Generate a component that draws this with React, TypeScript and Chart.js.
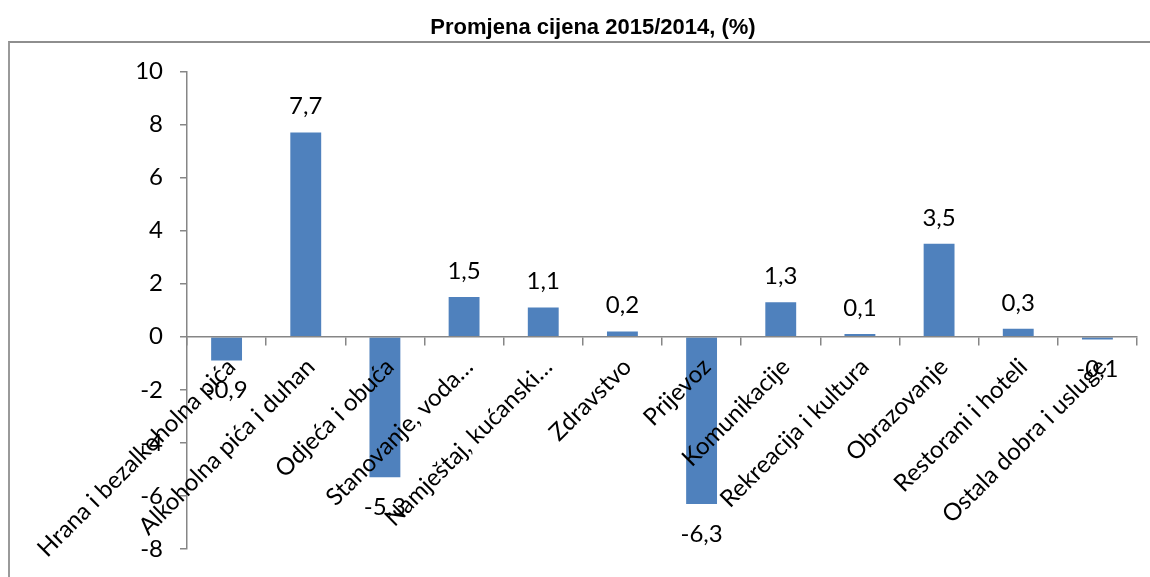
import React, { useEffect, useRef } from "react";
import { Chart, registerables } from "chart.js";

Chart.register(...registerables);

// ---- data ----
const categories: string[] = [
  "Hrana i bezalkoholna pića",
  "Alkoholna pića i duhan",
  "Odjeća i obuća",
  "Stanovanje, voda…",
  "Namještaj, kućanski…",
  "Zdravstvo",
  "Prijevoz",
  "Komunikacije",
  "Rekreacija i kultura",
  "Obrazovanje",
  "Restorani i hoteli",
  "Ostala dobra i usluge",
];
const values: number[] = [-0.9, 7.7, -5.3, 1.5, 1.1, 0.2, -6.3, 1.3, 0.1, 3.5, 0.3, -0.1];
const yMin = -8;
const yMax = 10;
const yStep = 2;
const chartTitle = "Promjena cijena 2015/2014, (%)";

const FONT = "Lato";
const FONT_SIZE = 24;
const AXIS = "#868686";
const BAR = "#4F81BD";

const fmt = (v: number) => String(v).replace(".", ",");

const dataLabels = {
  id: "dataLabels",
  afterDatasetsDraw(chart: any) {
    const ctx = chart.ctx;
    const meta = chart.getDatasetMeta(0);
    ctx.save();
    ctx.font = `${FONT_SIZE}px ${FONT}`;
    ctx.fillStyle = "#000";
    ctx.textAlign = "center";
    ctx.textBaseline = "middle";
    meta.data.forEach((bar: any, i: number) => {
      const v = values[i];
      const p = bar.getProps(["x", "y"], true);
      const ty = v >= 0 ? p.y - 26 : p.y + 30;
      ctx.fillText(fmt(v), p.x, ty);
    });
    ctx.restore();
  },
};

export default function App() {
  const ref = useRef<HTMLCanvasElement | null>(null);

  useEffect(() => {
    let chart: Chart | null = null;
    let cancelled = false;
    const build = () => {
      if (cancelled || !ref.current) return;
      chart = new Chart(ref.current, {
        type: "bar",
        data: {
          labels: categories,
          datasets: [
            {
              data: values,
              backgroundColor: BAR,
              borderWidth: 0,
              barPercentage: 0.39,
              categoryPercentage: 1,
            },
          ],
        },
        options: {
          responsive: false,
          animation: false,
          devicePixelRatio: 1,
          layout: { padding: { left: 41, right: 41, top: 0, bottom: 28 } },
          plugins: {
            legend: { display: false },
            tooltip: { enabled: false },
            title: {
              display: true,
              text: chartTitle,
              color: "#000",
              font: { family: "Liberation Sans", size: 22, weight: "bold", lineHeight: 1.2 },
              padding: { top: 7, bottom: 30 },
            },
          },
          scales: {
            x: {
              type: "category",
              position: { y: 0 } as any,
              offset: true,
              grid: {
                display: true,
                drawOnChartArea: false,
                drawTicks: true,
                tickLength: 8,
                offset: true,
                color: AXIS,
                lineWidth: 1.5,
                z: 1,
              },
              border: { display: true, color: AXIS, width: 1.5, z: 1 },
              ticks: {
                autoSkip: false,
                maxRotation: 45,
                minRotation: 45,
                padding: 8,
                labelOffset: 5,
                color: "#000",
                font: { family: FONT, size: FONT_SIZE },
                z: 2,
              },
              afterFit(s: any) {
                s.paddingLeft = 0;
                s.paddingRight = 0;
              },
            },
            y: {
              min: yMin,
              max: yMax,
              ticks: {
                stepSize: yStep,
                padding: 17,
                color: "#000",
                font: { family: FONT, size: FONT_SIZE },
              },
              grid: {
                drawOnChartArea: false,
                drawTicks: true,
                tickLength: 7,
                color: AXIS,
                lineWidth: 1.5,
              },
              border: { display: true, color: AXIS, width: 1.5 },
              afterFit(s: any) {
                s.width = 138;
                s.paddingTop = 0;
                s.paddingBottom = 0;
              },
            },
          },
        },
        plugins: [dataLabels],
      });
    };
    const fonts = (document as any).fonts;
    if (fonts && fonts.load) {
      Promise.all([
        fonts.load(`${FONT_SIZE}px ${FONT}`),
        fonts.load(`bold 22px "Liberation Sans"`),
      ])
        .catch(() => {})
        .then(build);
    } else {
      build();
    }
    return () => {
      cancelled = true;
      if (chart) chart.destroy();
    };
  }, []);

  return (
    <div
      style={{
        position: "fixed",
        left: 8,
        top: 8,
        width: 1142,
        height: 569,
        overflow: "hidden",
        background: "#fff",
      }}
    >
      <div
        style={{
          position: "absolute",
          left: 0,
          top: 33,
          width: 1200,
          height: 600,
          borderTop: "2px solid #8e8e8e",
          borderLeft: "2px solid #9a9a9a",
        }}
      />
      <canvas
        ref={ref}
        width={1170}
        height={569}
        style={{ position: "absolute", left: 0, top: 0, width: 1170, height: 569 }}
      />
    </div>
  );
}
